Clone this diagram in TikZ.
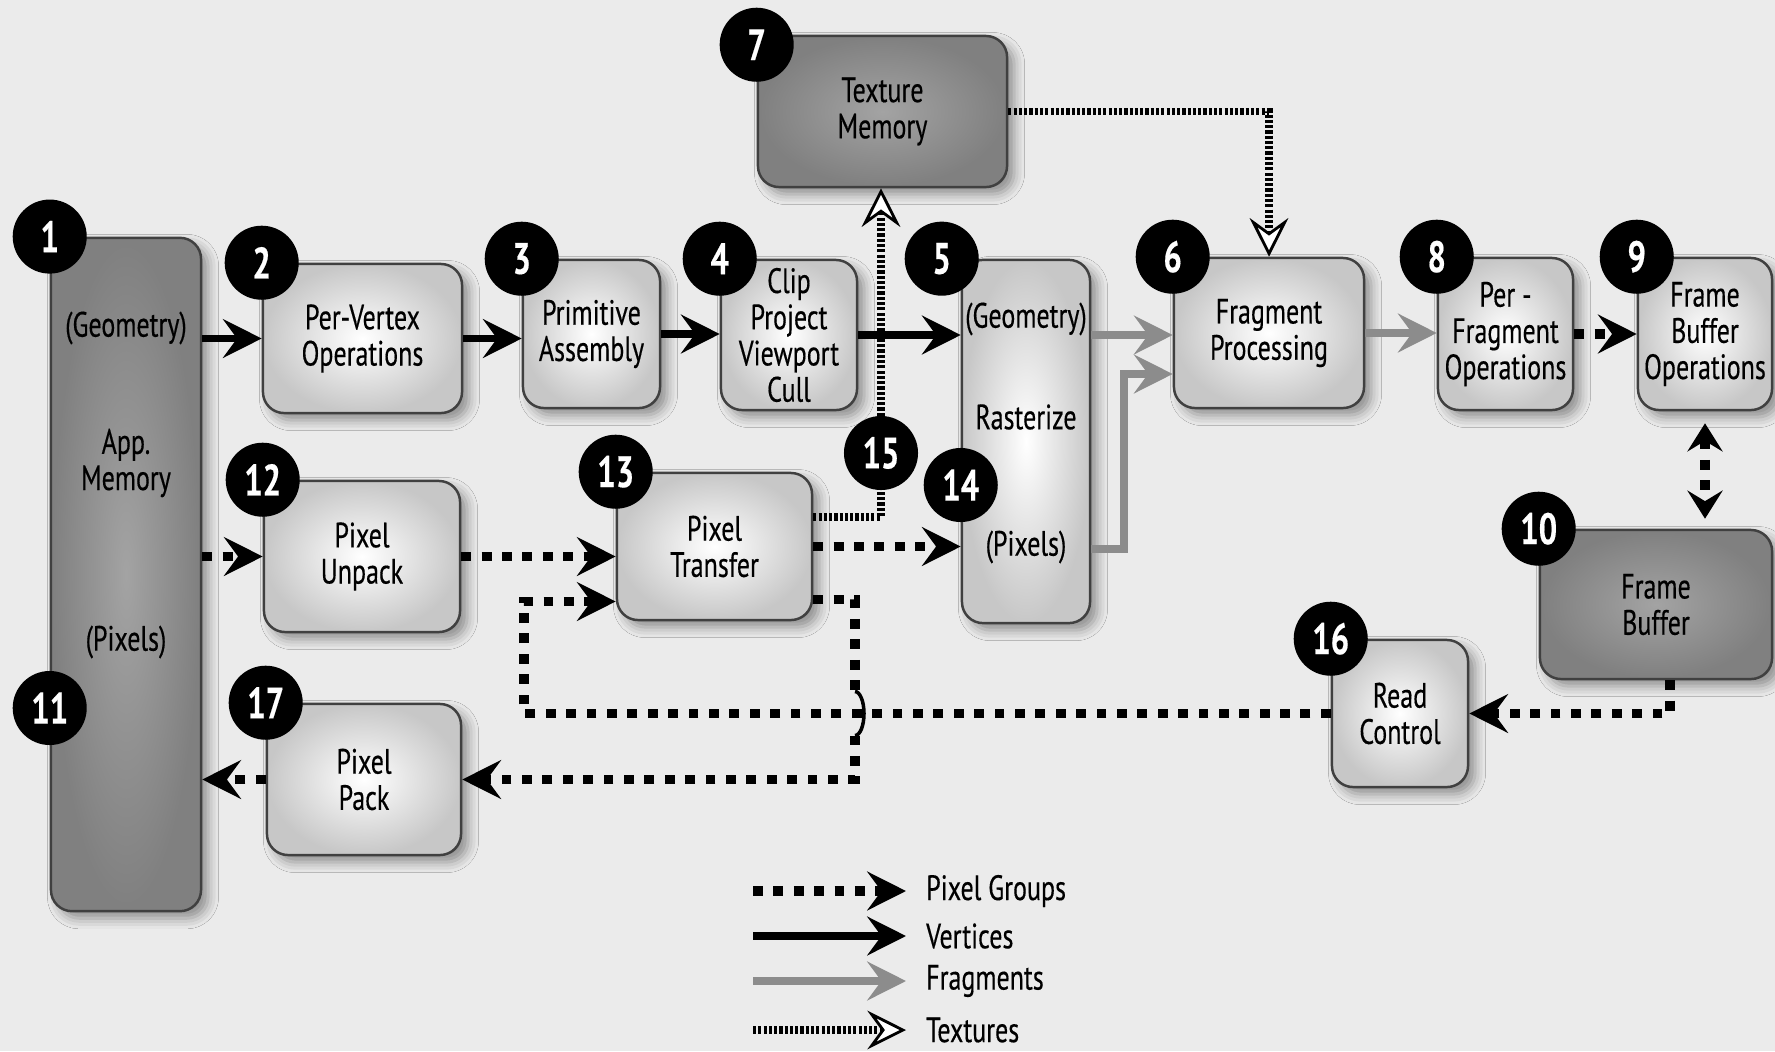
\documentclass[tikz,border=0pt]{standalone}
\usepackage{fontspec}
\setmainfont[FakeStretch=0.74,FakeBold=0.35]{PT Sans}
\usetikzlibrary{arrows.meta,positioning,shadows.blur,calc}

\tikzset{
  lbl/.style={align=center, inner sep=1pt, font=\fontsize{10}{10.3}\selectfont},
  stage/.style={lbl, draw=black!75, line width=0.7pt, rounded corners=6pt,
    inner color=white, outer color=black!22,
    blur shadow={shadow xshift=2pt, shadow yshift=-2pt, shadow blur radius=3pt}},
  store/.style={stage, inner color=black!36, outer color=black!50},
  num/.style={circle, fill=black, text=white, minimum size=0.74cm, inner sep=0pt,
    font=\fontsize{12.5}{12.5}\bfseries\selectfont},
  vert/.style={line width=2pt, -{Stealth[length=11pt,width=11pt,inset=4pt]}},
  pix/.style={line width=2.8pt, dash pattern=on 2.8pt off 3pt,
    -{Stealth[length=11pt,width=11pt,inset=4pt]}},
  frag/.style={line width=2pt, draw=black!45,
    -{Stealth[length=11pt,width=11pt,inset=4pt,fill=black!45]}},
  tex/.style={line width=2.1pt, dash pattern=on 0.9pt off 0.6pt,
    -{Stealth[open,fill=white,line width=0.8pt,length=11pt,width=11pt,inset=4pt]}},
}

\begin{document}
\begin{tikzpicture}[x=0.01cm, y=-0.01cm]
  \useasboundingbox (0,0) rectangle (1775,1051);
  \fill[black!8] (0,0) rectangle (1775,1051);

  % memories
  \node[store, minimum width=1.5cm, minimum height=6.73cm] (appmem) at (126,574.5) {};
  \node[lbl] (appgeo) at (126,328) {(Geometry)};
  \node[lbl] (appname) at (126,463) {App.\\Memory};
  \node[lbl] (apppix) at (126,642) {(Pixels)};
  \node[store, minimum width=2.49cm, minimum height=1.51cm] (texmem) at (882.5,111.5) {Texture\\Memory};
  \node[store, minimum width=2.32cm, minimum height=1.49cm] (framebuf) at (1656,604.5) {Frame\\Buffer};

  % geometry path
  \node[stage, minimum width=1.99cm, minimum height=1.49cm] (pervertex) at (362.5,338.5) {Per-Vertex\\Operations};
  \node[stage, minimum width=1.37cm, minimum height=1.48cm] (primasm) at (591.5,334) {Primitive\\Assembly};
  \node[stage, minimum width=1.36cm, minimum height=1.5cm] (clip) at (789,335) {Clip\\Project\\Viewport\\Cull};
  \node[stage, minimum width=1.28cm, minimum height=3.63cm] (raster) at (1026,441.5) {};
  \node[lbl] (rastgeo) at (1026,319) {(Geometry)};
  \node[lbl] (rastname) at (1026,417) {Rasterize};
  \node[lbl] (rastpix) at (1026,547) {(Pixels)};
  \node[stage, minimum width=1.9cm, minimum height=1.5cm] (fragproc) at (1269,333) {Fragment\\Processing};
  \node[stage, minimum width=1.35cm, minimum height=1.52cm] (perfrag) at (1505.5,334) {Per -\\Fragment\\Operations};
  \node[stage, minimum width=1.34cm, minimum height=1.52cm] (fbops) at (1705,334) {Frame\\Buffer\\Operations};

  % pixel path
  \node[stage, minimum width=1.96cm, minimum height=1.51cm] (unpack) at (362,556.5) {Pixel\\Unpack};
  \node[stage, minimum width=1.95cm, minimum height=1.47cm] (transfer) at (714.5,546.5) {Pixel\\Transfer};
  \node[stage, minimum width=1.36cm, minimum height=1.47cm] (readctl) at (1400,713.5) {Read\\Control};
  \node[stage, minimum width=1.94cm, minimum height=1.51cm] (pack) at (364,779.5) {Pixel\\Pack};

  % vertices
  \draw[vert] (appmem.east |- pervertex) -- (pervertex.west);
  \draw[vert] (pervertex.east) -- (pervertex.east -| primasm.west);
  \draw[vert] (primasm.east) -- (primasm.east -| clip.west);
  \draw[vert] (clip.east) -- (clip.east -| raster.west);

  % fragments
  \coordinate (fragbend) at (1124,374);
  \draw[frag] (raster.east |- clip.east) -- (fragproc.west |- clip.east);
  \draw[frag] (raster.east |- 0,549) -| (fragbend) -- (fragbend -| fragproc.west);
  \draw[frag] (fragproc.east) -- (fragproc.east -| perfrag.west);

  % pixel groups
  \draw[pix] (perfrag.east) -- (perfrag.east -| fbops.west);
  \draw[pix, {Stealth[length=8pt,width=10pt,inset=3pt]}-{Stealth[length=8pt,width=10pt,inset=3pt]},
    shorten <=0.12cm, shorten >=0.1cm] (fbops.south) -- (fbops.south |- framebuf.north);
  \draw[pix] (appmem.east |- unpack) -- (unpack.west);
  \draw[pix] (unpack.east) -- (unpack.east -| transfer.west);
  \draw[pix] (transfer.east) -- (transfer.east -| raster.west);
  \coordinate (fbout) at (1670,713.5);
  \draw[pix] (framebuf.south -| fbout) -- (fbout) -- (readctl.east);
  \coordinate (loopcorner) at (524,713.5);
  \draw[pix] (readctl.west) -- (loopcorner) |- ($(transfer.west)+(0,55)$);
  \coordinate (hop) at (855,713.5);
  \draw[pix, -] ($(transfer.east)+(0,53)$) -| ($(hop)+(0,-22)$);
  \draw[line width=1pt] ($(hop)+(0,-22)$) arc[start angle=90, end angle=-90, x radius=0.09cm, y radius=0.22cm];
  \draw[pix] ($(hop)+(0,22)$) |- (pack.east);
  \draw[pix] (pack.west) -- (pack.west -| appmem.east);

  % textures
  \coordinate (texup) at (881,517);
  \draw[tex] (transfer.east |- texup) -- (texup) -- (texup |- texmem.south);
  \draw[tex] (texmem.east) -| (fragproc.north);

  % step numbers
  \node[num] (n1) at (appmem.north west) {1};
  \node[num] (n2) at (pervertex.north west) {2};
  \node[num] (n3) at (primasm.north west) {3};
  \node[num] (n4) at (clip.north west) {4};
  \node[num, xshift=-0.19cm] (n5) at (raster.north west) {5};
  \node[num] (n6) at (fragproc.north west) {6};
  \node[num, yshift=-0.1cm] (n7) at (texmem.north west) {7};
  \node[num] (n8) at (perfrag.north west) {8};
  \node[num] (n9) at (fbops.north west) {9};
  \node[num] (n10) at (framebuf.north west) {10};
  \node[num] (n11) at (appmem.west |- 0,708) {11};
  \node[num] (n12) at (unpack.north west) {12};
  \node[num] (n13) at (transfer.north west) {13};
  \node[num] (n14) at (raster.west |- 0,485) {14};
  \node[num] (n15) at (texup |- 0,453) {15};
  \node[num] (n16) at (readctl.north west) {16};
  \node[num] (n17) at (pack.north west) {17};

  % legend
  \foreach \sty/\txt/\yy [count=\i] in {pix/Pixel Groups/891, vert/Vertices/936,
      frag/Fragments/981, tex/Textures/1030} {
    \node[lbl, anchor=west] (leg\i) at (922,\yy) {\txt};
    \coordinate (legstart\i) at (753,\yy);
    \draw[\sty] (legstart\i) -- ($(leg\i.west)+(-16,0)$);
  }
\end{tikzpicture}
\end{document}
